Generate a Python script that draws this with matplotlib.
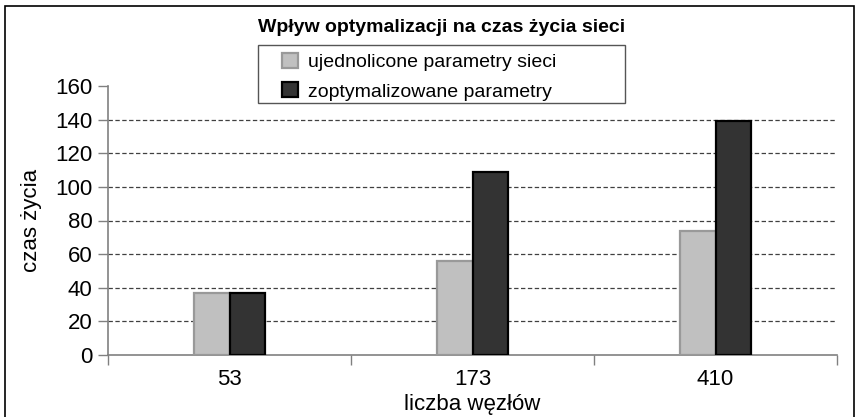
import matplotlib
matplotlib.use('Agg')
import matplotlib.pyplot as plt
from matplotlib.patches import Rectangle

plt.rcParams['font.family'] = ['Liberation Sans', 'DejaVu Sans']

# dane z wykresu
wezly = ['53', '173', '410']
ujednolicone = [37, 56, 74]
zoptymalizowane = [37, 109, 139]
y_ticks = [0, 20, 40, 60, 80, 100, 120, 140, 160]

W, H = 859, 417
fig = plt.figure(figsize=(W / 100, H / 100), dpi=100)

# ramka wokol calego wykresu (dol ucięty)
fig.patches.append(Rectangle((5 / W, -0.05), 849 / W, 1.05 - 6 / H,
                             transform=fig.transFigure, fill=False,
                             edgecolor='black', linewidth=1.2))

ax = fig.add_axes([108 / W, (H - 355) / H, (837 - 108) / W, (355 - 86) / H])

x = list(range(len(wezly)))
bw = 0.145
ax.bar([i - bw / 2 for i in x], ujednolicone, bw, color='#c0c0c0',
       edgecolor='#999999', linewidth=1.6, label='ujednolicone parametry sieci', zorder=3)
ax.bar([i + bw / 2 for i in x], zoptymalizowane, bw, color='#333333',
       edgecolor='black', linewidth=1.6, label='zoptymalizowane parametry', zorder=3)

# linie siatki (bez 0 i 160)
ax.hlines(y_ticks[1:-1], -0.5, 2.5, colors='#404040', linestyles=(0, (3.5, 2)),
          linewidth=0.9, zorder=1)

ax.set_xlim(-0.5, 2.5)
ax.set_ylim(0, 160)
ax.set_yticks(y_ticks)
ax.set_xticks(x)
ax.set_xticklabels(wezly)
ax.set_xticks([-0.5, 0.5, 1.5, 2.5], minor=True)
ax.tick_params(axis='x', which='major', length=0, labelsize=16, pad=10)
ax.tick_params(axis='x', which='minor', length=7, color='#808080', width=1)
ax.tick_params(axis='y', length=7, color='#808080', width=1, labelsize=16, pad=4)

for s in ['top', 'right']:
    ax.spines[s].set_visible(False)
for s in ['left', 'bottom']:
    ax.spines[s].set_color('#808080')
    ax.spines[s].set_linewidth(1.2)

ax.set_ylabel('czas życia', fontsize=16, labelpad=10)
ax.set_xlabel('liczba węzłów', fontsize=16, labelpad=3)

fig.text(442 / W, (H - 27) / H, 'Wpływ optymalizacji na czas życia sieci',
         ha='center', va='center', fontsize=14, fontweight='bold')

# ramka legendy
fig.patches.append(Rectangle((258 / W, (H - 103) / H), 367 / W, 58 / H,
                             transform=fig.transFigure, facecolor='white',
                             edgecolor='#555555', linewidth=1, zorder=4))

h, l = ax.get_legend_handles_labels()
leg = fig.legend(h, l, loc='upper left', bbox_to_anchor=(282 / W, (H - 53) / H),
                 fontsize=14, frameon=False, handlelength=0.8,
                 handleheight=0.8, handletextpad=0.55, borderpad=0,
                 labelspacing=0.58, borderaxespad=0)
leg.set_zorder(5)

fig.savefig('out.png', dpi=100)
